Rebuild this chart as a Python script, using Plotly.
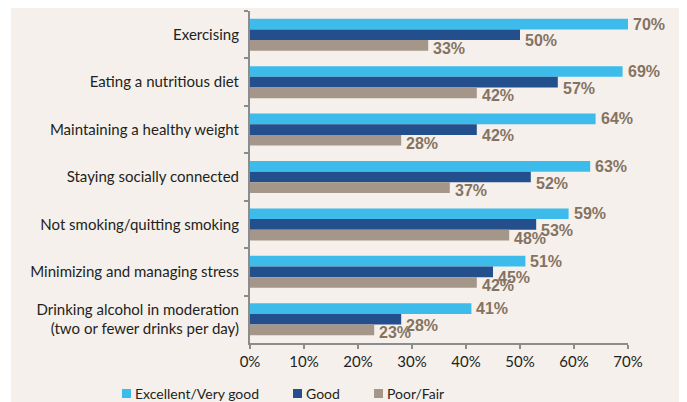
import plotly.graph_objects as go

categories = [
    "Exercising",
    "Eating a nutritious diet",
    "Maintaining a healthy weight",
    "Staying socially connected",
    "Not smoking/quitting smoking",
    "Minimizing and managing stress",
    "Drinking alcohol in moderation<br>(two or fewer drinks per day)",
]
series_names = ["Excellent/Very good", "Good", "Poor/Fair"]
excellent = [70, 69, 64, 63, 59, 51, 41]
good = [50, 57, 42, 52, 53, 45, 28]
poor = [33, 42, 28, 37, 48, 42, 23]
x_ticks = [0, 10, 20, 30, 40, 50, 60, 70]
x_tick_labels = ["0%", "10%", "20%", "30%", "40%", "50%", "60%", "70%"]

colors = ["#3dbceb", "#23508d", "#a49688"]
label_color = "#857362"
bg = "#f5f0ec"

# the page body has an 8px margin, so the figure is drawn 8px in from the corner
OFF = 8
W, H = 687 - OFF, 402 - OFF
L, R, T, B = 250 - OFF, 59, 11 - OFF, 59
pw, ph = W - L - R, H - T - B

# helpers: page pixel -> paper fraction
def px_x(px):
    return (px - OFF - L) / pw

def px_y(py):
    return (H - B - (py - OFF)) / ph

fig = go.Figure()
all_values = [excellent, good, poor]
for name, vals, col in zip(series_names, all_values, colors):
    fig.add_trace(go.Bar(y=categories, x=vals, name=name, orientation='h',
                         marker=dict(color=col, line=dict(width=0))))

bargap = 0.325
bw = (1 - bargap) / 3
offsets = [-bw, 0, bw]
yshifts = [0, -6, -3]
for vals, off, ys in zip(all_values, offsets, yshifts):
    for i, v in enumerate(vals):
        fig.add_annotation(x=v, y=i + off, xref='x', yref='y', text=f"{v}%",
                           showarrow=False, xanchor='left', yanchor='middle',
                           xshift=3, yshift=ys,
                           font=dict(family="Liberation Sans", size=16, color=label_color,
                                     weight='bold'))

# background panel
fig.add_shape(type='rect', xref='paper', yref='paper', layer='below',
              x0=px_x(11), x1=px_x(687), y0=px_y(402), y1=px_y(OFF),
              fillcolor=bg, line=dict(width=0))

# legend drawn by hand to match spacing
legend_x = [122, 293, 374]
for name, col, lx in zip(series_names, colors, legend_x):
    fig.add_shape(type='rect', xref='paper', yref='paper',
                  x0=px_x(lx), x1=px_x(lx + 9), y0=px_y(398), y1=px_y(389),
                  fillcolor=col, line=dict(width=0))
    fig.add_annotation(x=px_x(lx + 11), y=px_y(394), xref='paper', yref='paper',
                       text=name, showarrow=False, xanchor='left', yanchor='middle',
                       font=dict(family="Lato", size=14, color="#231f20"))

fig.update_layout(
    width=W, height=H,
    margin=dict(l=L, r=R, t=T, b=B),
    barmode='group', bargap=bargap, bargroupgap=0,
    paper_bgcolor='white', plot_bgcolor='rgba(0,0,0,0)',
    showlegend=False,
    font=dict(family="Lato", size=15, color="#231f20"),
)
fig.update_xaxes(range=[0, 70], tickvals=x_ticks, ticktext=x_tick_labels, showgrid=False,
                 zeroline=False, showline=True, linecolor='#8c8c8c', linewidth=2,
                 ticks='outside', ticklen=4, tickcolor='#8c8c8c', tickwidth=2,
                 tickfont=dict(size=15), automargin=False)
fig.update_yaxes(autorange='reversed', showgrid=False, showline=True,
                 linecolor='#8c8c8c', linewidth=2, ticks='outside', ticklen=4,
                 tickcolor='#8c8c8c', tickwidth=2, tickson='boundaries',
                 ticklabelstandoff=6, tickfont=dict(size=15), automargin=False)

fig.write_html("out.html")
